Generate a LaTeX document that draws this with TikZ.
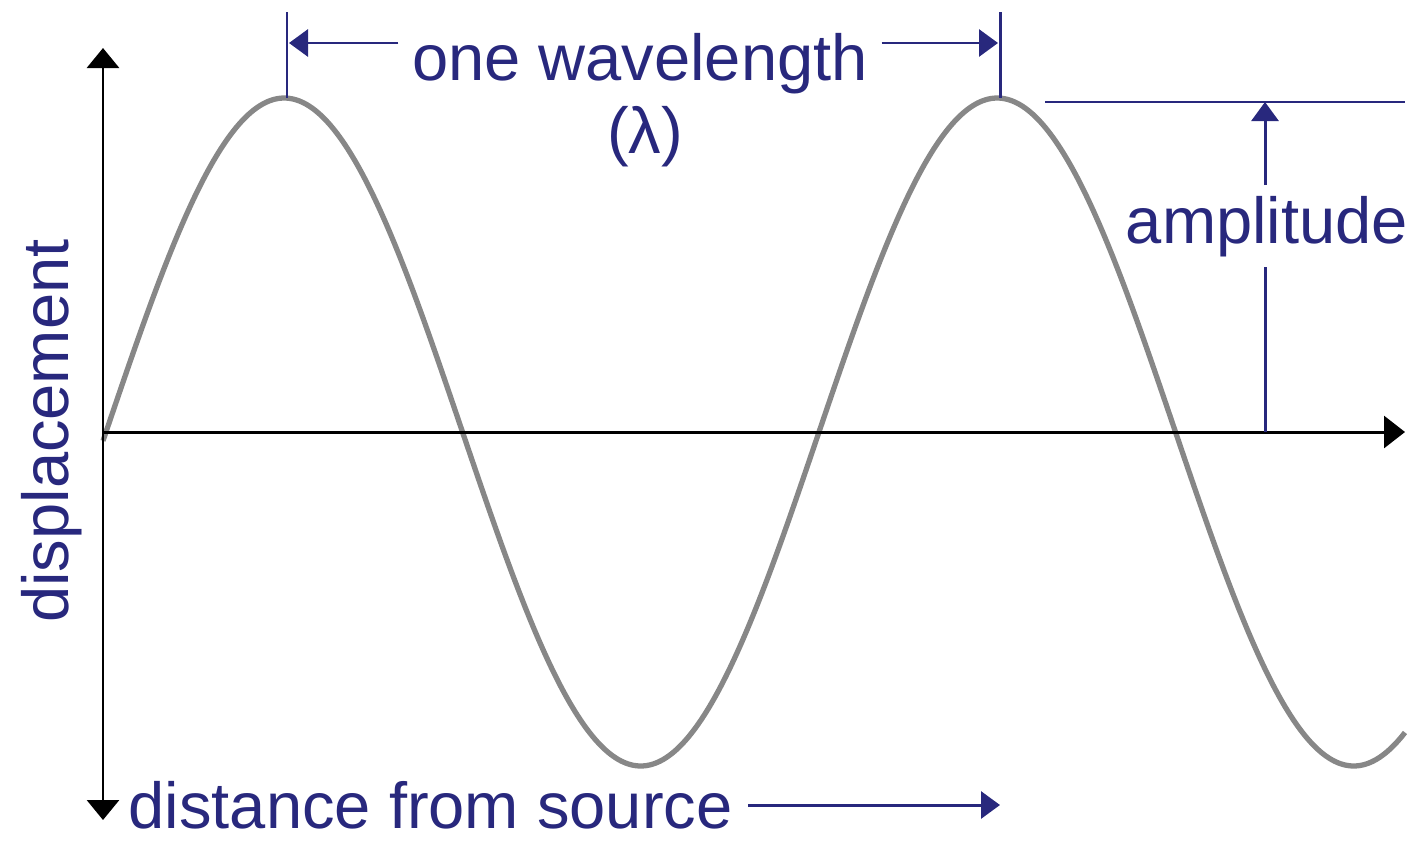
\documentclass[tikz,border=0pt]{standalone}
\usepackage{fontspec}
\setmainfont{Liberation Sans}
\usepackage{xcolor}
\usetikzlibrary{arrows.meta,positioning}
\definecolor{navy}{RGB}{40,40,125}
\definecolor{wavegray}{RGB}{135,135,135}

\begin{document}
\begin{tikzpicture}[
    x=0.01cm, y=-0.01cm,
    txt/.style={text=navy, font=\fontsize{18.5}{22}\selectfont, inner sep=0pt},
    axis/.style={line width=0.85pt, draw=black},
    axisarrow/.style={axis, -{Triangle[length=0.21cm, width=0.32cm]}},
    axisboth/.style={axis, {Triangle[length=0.2cm, width=0.32cm]}-{Triangle[length=0.2cm, width=0.32cm]}},
    dimline/.style={line width=0.85pt, draw=navy},
    dimarrow/.style={dimline, -{Triangle[length=0.19cm, width=0.27cm]}},
    wave/.style={line width=1.5pt, draw=wavegray, line join=round}
]
    \useasboundingbox (0,0) rectangle (1412,845);

    \coordinate (origin) at (103,432);
    \coordinate (ytop) at (103,48);
    \coordinate (ybot) at (103,820);
    \coordinate (xend) at (1405,432);
    \coordinate (crestA) at (287,98);
    \coordinate (crestAtop) at (287,12);
    \coordinate (crestB) at (1000,98);
    \coordinate (crestBtop) at (1000,12);
    \coordinate (wlL) at (289,43);
    \coordinate (wlR) at (998,43);
    \coordinate (ampL) at (1045,102);
    \coordinate (ampR) at (1405,102);
    \coordinate (amphead) at (1265,102);
    \coordinate (ampfoot) at (1265,432);
    \coordinate (distR) at (1000,805);

    \node [txt, inner xsep=0.13cm, anchor=base] (wavelen) at (640,80) {one wavelength};
    \node [txt, anchor=base] (lambda) at (645,153) {(λ)};
    \node [txt, inner ysep=0.1cm, anchor=base] (amp) at (1267,243) {amplitude};
    \node [txt, inner xsep=0.15cm, anchor=base west] (dist) at (113,828) {distance from source};
    \node [txt, rotate=90, anchor=base] (disp) at (68,431) {displacement};

    \draw [wave] plot[domain=103:1405, samples=260, smooth] (\x, {432-334*sin(0.504909*(\x-106))});

    \draw [axisboth] (ytop) -- (ybot);
    \draw [axisarrow] (origin) -- (xend);

    \draw [dimline] (crestAtop) -- (crestA);
    \draw [dimline] (crestBtop) -- (crestB);
    \draw [dimarrow] (wavelen.west |- wlL) -- (wlL);
    \draw [dimarrow] (wavelen.east |- wlR) -- (wlR);

    \draw [dimline] (ampL) -- (ampR);
    \draw [dimline] (ampfoot) -- (amp.south -| ampfoot);
    \draw [dimarrow] (amp.north -| amphead) -- (amphead);

    \draw [dimarrow] (dist.east |- distR) -- (distR);
\end{tikzpicture}
\end{document}
